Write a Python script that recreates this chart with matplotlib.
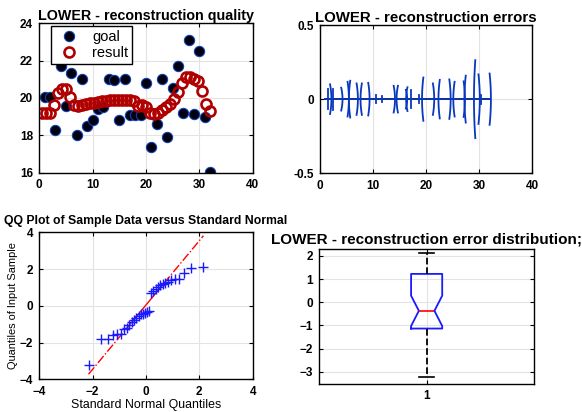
import numpy as np
import matplotlib
matplotlib.use("Agg")
import matplotlib.pyplot as plt
from statistics import NormalDist

plt.rcParams['font.family'] = ['Liberation Sans', 'DejaVu Sans']

# ---- reconstruction quality ----
goal_values = [20.05, 20.05, 18.3, 21.7, 19.55, 21.35, 18.0, 21.0, 18.5, 18.8,
               19.4, 19.5, 21.0, 20.95, 18.8, 21.0, 19.1, 19.1, 19.1, 20.8,
               17.35, 18.6, 21.0, 17.9, 20.55, 21.7, 19.2, 23.1, 19.15, 22.5,
               19.0, 16.05]
result_values = [19.2, 19.2, 19.2, 19.6, 20.25, 20.5, 20.5, 20.05, 19.6, 19.55,
                 19.65, 19.7, 19.75, 19.75, 19.8, 19.82, 19.85, 19.88, 19.9, 19.9,
                 19.9, 19.9, 19.9, 19.85, 19.55, 19.6, 19.5, 19.2, 19.15, 19.2,
                 19.35, 19.5, 19.7, 19.95, 20.3, 20.8, 21.1, 21.15, 21.0, 20.9,
                 20.4, 19.7, 19.3]
goal_x = np.arange(1, len(goal_values) + 1)
result_x = np.linspace(0.5, 32.0, len(result_values))

# ---- reconstruction errors (oscillation bursts along the sequence) ----
err_x = [1.45, 1.9, 2.5, 4.0, 5.2, 5.7, 6.9, 7.9, 9.1, 10.6, 11.7, 13.9, 14.7,
         16.2, 16.5, 17.1, 18.6, 19.5, 21.3, 22.6, 24.4, 25.4, 27.1, 27.5,
         29.3, 29.9, 30.4, 32.0]
err_amp = [0.068, 0.10, 0.07, 0.077, 0.117, 0.124, 0.106, 0.106, 0.11, 0.027,
           0.018, 0.09, 0.09, 0.063, 0.08, 0.063, 0.027, 0.146, 0.106, 0.13,
           0.133, 0.117, 0.12, 0.158, 0.263, 0.167, 0.03, 0.173]
err_bend = [0, 1, 0, 1, 1, -1, 1, -1, 1, 0, 0, 1, -1, 1, -1, 0, 0, -1, 1, -1,
            1, -1, 1, -1, -1, 1, 0, 1]
err_span = [1, 32]

# ---- sample of reconstruction errors (sorted) ----
sample = [-3.22, -1.83, -1.83, -1.58, -1.56, -1.54, -1.25, -1.2, -1.07, -0.87,
          -0.78, -0.65, -0.56, -0.45, -0.42, -0.39, -0.35, -0.28, 0.67, 0.8,
          0.94, 1.03, 1.12, 1.2, 1.25, 1.3, 1.4, 1.45, 1.47, 1.76, 2.07, 2.12]

W, H = 582, 412
fig = plt.figure(figsize=(W / 100, H / 100), dpi=100)


def frame(l, t, r, b):
    return fig.add_axes([l / W, 1 - b / H, (r - l) / W, (b - t) / H])


def style(ax):
    ax.tick_params(direction='in', top=True, right=True, length=3,
                   labelsize=8.5, width=0.8, pad=4.5)
    for lab in ax.get_xticklabels() + ax.get_yticklabels():
        lab.set_fontweight('bold')
    ax.grid(True, color='#e3e3e3', lw=0.8)
    ax.set_axisbelow(True)
    for s in ax.spines.values():
        s.set_linewidth(1.0)


# top-left: goal vs result
ax1 = frame(39.3, 23.3, 252.7, 172.7)
ax1.plot(goal_x, goal_values, 'o', ls='none', ms=7.4, mfc='#00000f',
         mec='#1040b0', mew=0.8, label='goal')
ax1.plot(result_x, result_values, 'o', ls='none', ms=7.2, mfc='none',
         mec='#b00000', mew=1.9, label='result')
ax1.set_xlim(0, 40)
ax1.set_ylim(16, 24)
ax1.set_xticks([0, 10, 20, 30, 40])
ax1.set_yticks([16, 18, 20, 22, 24])
style(ax1)
ax1.set_title('LOWER - reconstruction quality', fontsize=10.3,
              fontweight='bold', pad=2.5)
leg = ax1.legend(loc='upper left', bbox_to_anchor=(0.04, 1.0), fontsize=10.5,
                 fancybox=False, edgecolor='black', framealpha=1,
                 borderpad=0.25, handletextpad=0.6, labelspacing=0.15,
                 borderaxespad=0.2)
leg.get_frame().set_linewidth(1.0)

# top-right: errors
ax2 = frame(320, 25, 532, 173.3)
ax2.plot(err_span, [0, 0], color='#0a2f9e', lw=1.4)
for x0, a, b in zip(err_x, err_amp, err_bend):
    yy = np.linspace(-a, a, 30)
    xx = x0 + b * 0.25 * (1 - (yy / a) ** 2)
    ax2.plot(xx, yy, color='#0838c0', lw=1.3)
ax2.set_xlim(0, 40)
ax2.set_ylim(-0.5, 0.5)
ax2.set_xticks([0, 10, 20, 30, 40])
ax2.set_yticks([-0.5, 0, 0.5])
ax2.set_yticklabels(['-0.5', '0', '0.5'])
style(ax2)
ax2.set_title('LOWER - reconstruction errors', fontsize=10.8,
              fontweight='bold', pad=2.5)

# bottom-left: QQ plot
data = np.sort(np.array(sample))
n = len(data)
nd = NormalDist()
theo = np.array([nd.inv_cdf((i - 0.5) / n) for i in range(1, n + 1)])
q1, med, q3 = np.percentile(data, [25, 50, 75], method='hazen')
tq1, tq3 = nd.inv_cdf(0.25), nd.inv_cdf(0.75)
slope = (q3 - q1) / (tq3 - tq1)
icpt = q1 - slope * tq1

ax3 = frame(39.3, 232.3, 252.7, 379.3)
xs = np.array([theo[0], tq1])
ax3.plot(xs, icpt + slope * xs, color='red', ls='-.', lw=1.0)
xs = np.array([tq3, theo[-1]])
ax3.plot(xs, icpt + slope * xs, color='red', ls='-.', lw=1.0)
xs = np.array([tq1, tq3])
ax3.plot(xs, icpt + slope * xs, color='red', ls='-', lw=1.0)
ax3.plot(theo, data, '+', color='#1a1aff', ms=7, mew=1.0)
ax3.set_xlim(-4, 4)
ax3.set_ylim(-4, 4)
ax3.set_xticks([-4, -2, 0, 2, 4])
ax3.set_yticks([-4, -2, 0, 2, 4])
style(ax3)
ax3.set_xlabel('Standard Normal Quantiles', fontsize=8.9, labelpad=1)
ax3.set_ylabel('Quantiles of Input Sample', fontsize=7.9, labelpad=1)
ax3.set_title('QQ Plot of Sample Data versus Standard Normal', fontsize=8.8,
              fontweight='bold', pad=6)

# bottom-right: notched box plot
iqr = q3 - q1
stats = [{
    'med': med, 'q1': q1, 'q3': q3,
    'whislo': data.min(), 'whishi': data.max(),
    'cilo': med - 1.57 * iqr / np.sqrt(n), 'cihi': med + 1.57 * iqr / np.sqrt(n),
    'fliers': [], 'label': '1',
}]
ax4 = frame(319.3, 249, 534, 384)
ax4.bxp(stats, positions=[1], widths=0.145, shownotches=True,
        boxprops=dict(color='#1a1aff', lw=1.3),
        medianprops=dict(color='red', lw=1.2),
        whiskerprops=dict(color='black', ls='--', lw=1.3),
        capprops=dict(color='black', lw=1.2),
        capwidths=0.07, showfliers=False)
ax4.set_xlim(0.5, 1.5)
ax4.set_ylim(-3.53, 2.3)
ax4.set_xticks([1])
ax4.set_xticklabels(['1'])
ax4.set_yticks([-3, -2, -1, 0, 1, 2])
style(ax4)
ax4.set_title('LOWER - reconstruction error distribution;', fontsize=11,
              fontweight='bold', pad=4)

fig.savefig('out.png', dpi=100)
